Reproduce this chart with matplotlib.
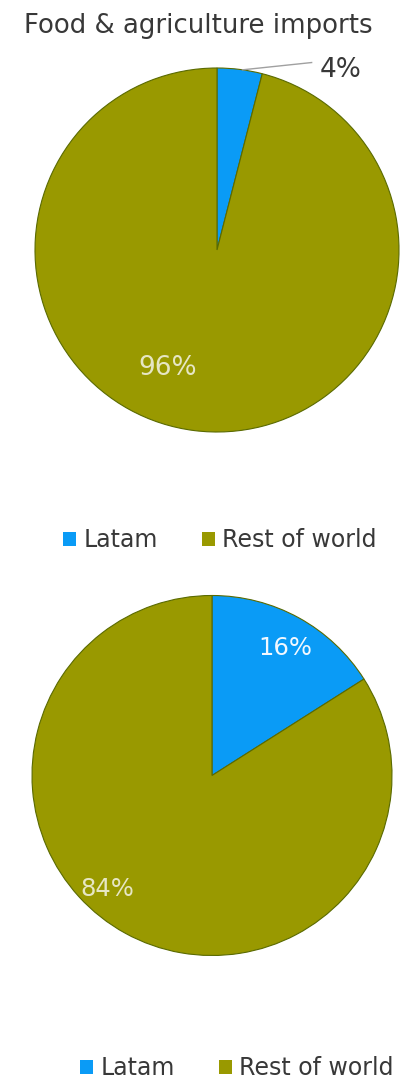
import matplotlib
import matplotlib.pyplot as plt
from matplotlib.patches import Patch
matplotlib.use('Agg')

regions = ["Latam", "Rest of world"]
colors = ["#0a9bf6", "#999900"]

imports_share = [4, 96]
exports_share = [16, 84]

title = "Food & agriculture imports"

plt.rcParams['font.family'] = ['DejaVu Sans']

fig = plt.figure(figsize=(4.01, 10.9), dpi=100)
fig.patch.set_facecolor('white')


def draw_pie(rect, values):
    ax = fig.add_axes(rect)
    ax.pie(values, colors=colors, startangle=90, counterclock=False,
           wedgeprops={'edgecolor': '#5a6a00', 'linewidth': 0.8})
    ax.set_xlim(-1, 1)
    ax.set_ylim(-1, 1)
    ax.set_aspect('equal')
    ax.axis('off')
    return ax


# imports pie
ax1 = draw_pie([35 / 401, 1 - 432 / 1090, 364 / 401, 364 / 1090], imports_share)
ax1.plot([0.14, 0.52], [0.99, 1.03], color='#a0a0a0', lw=1.0, clip_on=False)
ax1.text(0.68, 0.99, f"{imports_share[0]}%", color='#383838', fontsize=19,
         ha='center', va='center', clip_on=False)
ax1.text(-0.27, -0.65, f"{imports_share[1]}%", color='#e6e6c4', fontsize=19,
         ha='center', va='center')

# exports pie
ax2 = draw_pie([32 / 401, 1 - 955.5 / 1090, 360 / 401, 360 / 1090], exports_share)
ax2.text(0.41, 0.71, f"{exports_share[0]}%", color='#f2f8ff', fontsize=17.5,
         ha='center', va='center')
ax2.text(-0.58, -0.63, f"{exports_share[1]}%", color='#e6e6c4', fontsize=17.5,
         ha='center', va='center')

fig.text(198 / 401, 1 - 26 / 1090, title, color='#383838', fontsize=18.7,
         ha='center', va='center')

handles = [Patch(facecolor=c, edgecolor='none') for c in colors]
for cx, cy in [(220, 540), (237, 1068)]:
    fig.legend(handles, regions, loc='center', ncol=2,
               bbox_to_anchor=(cx / 401, 1 - cy / 1090), frameon=False,
               fontsize=17, labelcolor='#383838', handlelength=0.55,
               handleheight=0.55, handletextpad=0.3, columnspacing=1.9)

plt.savefig('out.png', dpi=100, facecolor='white')
plt.close(fig)
